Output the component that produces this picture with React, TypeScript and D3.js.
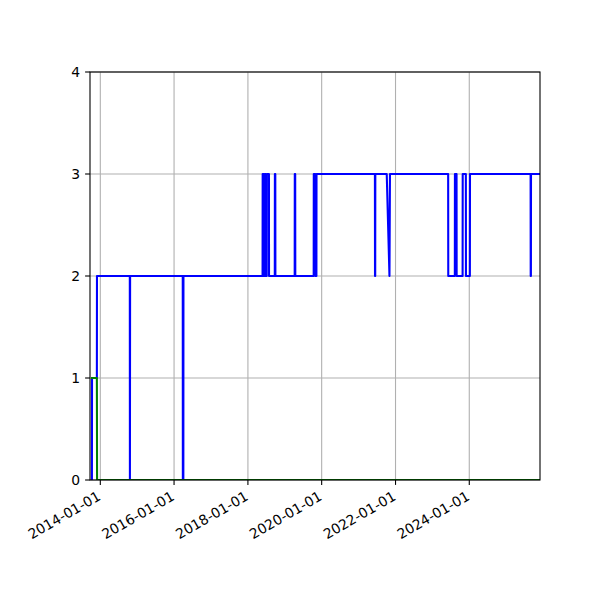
import * as React from 'react';
import { useRef, useEffect } from 'react';
import * as d3 from 'd3';

// series (dates are sample points, values are levels)
const blueDates = [
  '2013-10-10', '2013-10-11', '2013-11-28', '2013-11-29',
  '2014-10-20', '2014-10-21', '2014-10-23',
  '2016-03-27', '2016-03-28', '2016-04-02', '2016-04-03',
  '2018-05-26', '2018-05-27', '2018-06-05', '2018-06-06', '2018-06-14', '2018-06-15',
  '2018-06-26', '2018-06-27', '2018-07-06', '2018-07-07', '2018-07-28', '2018-07-29',
  '2018-09-24', '2018-09-25', '2018-09-29', '2018-09-30',
  '2019-04-09', '2019-04-10', '2019-04-14', '2019-04-15',
  '2019-10-14', '2019-10-15', '2019-10-30', '2019-10-31', '2019-11-10', '2019-11-11',
  '2021-06-11', '2021-06-12', '2021-06-14', '2021-06-15',
  '2021-10-06', '2021-11-02', '2021-11-07',
  '2023-06-06', '2023-06-07', '2023-08-11', '2023-08-12', '2023-08-28', '2023-08-29',
  '2023-10-27', '2023-10-28', '2023-11-28', '2023-11-29', '2024-01-07', '2024-01-08',
  '2025-08-30', '2025-08-31', '2025-09-02', '2025-09-03',
  '2025-12-01',
];
const blueValues = [
  0, 1, 1, 2,
  2, 0, 2,
  2, 0, 0, 2,
  2, 3, 3, 2, 2, 3,
  3, 2, 2, 3, 3, 2,
  2, 3, 3, 2,
  2, 3, 3, 2,
  2, 3, 3, 2, 2, 3,
  3, 2, 2, 3,
  3, 2, 3,
  3, 2, 2, 3, 3, 2,
  2, 3, 3, 2, 2, 3,
  3, 2, 2, 3,
  3,
];

const greenDates = ['2013-10-01', '2013-11-28', '2013-11-30', '2025-12-01'];
const greenValues = [1, 1, 0, 0];

const xDomain = ['2013-09-21', '2025-12-01'];
const xTickDates = ['2014-01-01', '2016-01-01', '2018-01-01', '2020-01-01', '2022-01-01', '2024-01-01'];
const yTicks = [0, 1, 2, 3, 4];

type Pt = { d: Date; v: number };

export default function App() {
  const wrap = useRef<HTMLDivElement>(null);
  const width = 600;
  const height = 600;
  const margin = { top: 72, right: 60, bottom: 120, left: 90 };

  useEffect(() => {
    document.body.style.margin = '0';
    if (!wrap.current) return;
    d3.select(wrap.current).selectAll('*').remove();

    const parse = d3.utcParse('%Y-%m-%d');
    const fmt = d3.utcFormat('%Y-%m-%d');

    const x = d3.scaleUtc()
      .domain(xDomain.map((s) => parse(s) as Date))
      .range([margin.left, width - margin.right]);
    const y = d3.scaleLinear()
      .domain([0, 4])
      .range([height - margin.bottom, margin.top]);

    const svg = d3.select(wrap.current)
      .append('svg')
      .attr('width', width)
      .attr('height', height)
      .style('display', 'block')
      .style('font-family', '"DejaVu Sans", sans-serif');

    svg.append('rect').attr('width', width).attr('height', height).attr('fill', '#fff');

    const x0 = margin.left;
    const x1 = width - margin.right;
    const y0 = height - margin.bottom;
    const y1 = margin.top;
    const xTicks = xTickDates.map((s) => parse(s) as Date);

    // grid
    const grid = svg.append('g').attr('stroke', '#b0b0b0').attr('stroke-width', 1.1);
    grid.selectAll('.gx').data(xTicks).join('line')
      .attr('x1', (d) => x(d)).attr('x2', (d) => x(d))
      .attr('y1', y0).attr('y2', y1);
    grid.selectAll('.gy').data(yTicks).join('line')
      .attr('x1', x0).attr('x2', x1)
      .attr('y1', (d) => y(d)).attr('y2', (d) => y(d));

    const line = d3.line<Pt>().x((p) => x(p.d)).y((p) => y(p.v));
    const series = [
      { dates: blueDates, values: blueValues, color: '#0000ff' },
      { dates: greenDates, values: greenValues, color: '#008000' },
    ];
    const clip = svg.append('clipPath').attr('id', 'plot-clip')
      .append('rect').attr('x', x0).attr('y', y1).attr('width', x1 - x0).attr('height', y0 - y1);
    void clip;
    series.forEach((s) => {
      const pts: Pt[] = s.dates.map((dt, i) => ({ d: parse(dt) as Date, v: s.values[i] }));
      svg.append('path')
        .datum(pts)
        .attr('clip-path', 'url(#plot-clip)')
        .attr('fill', 'none')
        .attr('stroke', s.color)
        .attr('stroke-width', 2.08)
        .attr('stroke-linejoin', 'round')
        .attr('d', line);
    });

    // spines
    svg.append('rect')
      .attr('x', x0).attr('y', y1).attr('width', x1 - x0).attr('height', y0 - y1)
      .attr('fill', 'none').attr('stroke', '#000').attr('stroke-width', 1.1);

    // x ticks
    const xt = svg.append('g');
    xt.selectAll('line').data(xTicks).join('line')
      .attr('x1', (d) => x(d)).attr('x2', (d) => x(d))
      .attr('y1', y0).attr('y2', y0 + 4.9)
      .attr('stroke', '#000').attr('stroke-width', 1.1);
    xt.selectAll('text').data(xTicks).join('text')
      .attr('transform', (d) => `translate(${x(d) - 4},${y0 + 10}) rotate(-30)`)
      .attr('text-anchor', 'end')
      .attr('dy', '0.76em')
      .attr('font-size', 13.9)
      .attr('fill', '#000')
      .text((d) => fmt(d));

    // y ticks
    const yt = svg.append('g');
    yt.selectAll('line').data(yTicks).join('line')
      .attr('x1', x0 - 4.9).attr('x2', x0)
      .attr('y1', (d) => y(d)).attr('y2', (d) => y(d))
      .attr('stroke', '#000').attr('stroke-width', 1.1);
    yt.selectAll('text').data(yTicks).join('text')
      .attr('x', x0 - 9.8)
      .attr('y', (d) => y(d))
      .attr('dy', '0.35em')
      .attr('text-anchor', 'end')
      .attr('font-size', 13.9)
      .attr('fill', '#000')
      .text((d) => String(d));
  }, []);

  return <div ref={wrap} />;
}
